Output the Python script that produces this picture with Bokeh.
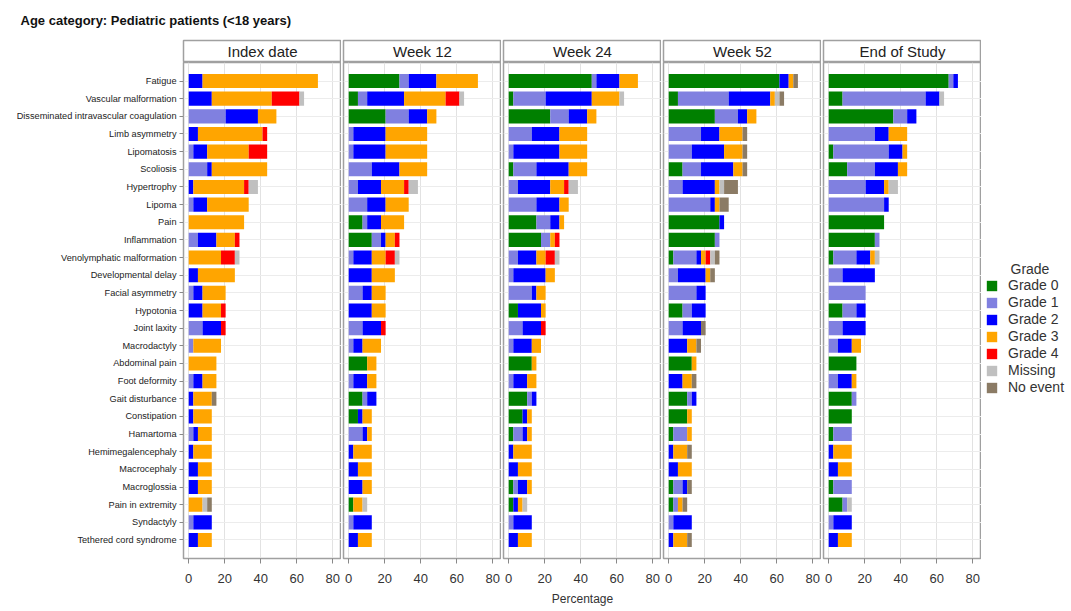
from bokeh.plotting import figure
from bokeh.layouts import column, row
from bokeh.models import (ColumnDataSource, FactorRange, Range1d, FixedTicker,
                          Legend, LegendItem)
from bokeh.embed import file_html
from bokeh.resources import INLINE
from bokeh.core.properties import value

# Pediatric cohort size; bar lengths are patient counts expressed as a percentage
N_PATIENTS = 39

categories = [
    "Fatigue", "Vascular malformation", "Disseminated intravascular coagulation",
    "Limb asymmetry", "Lipomatosis", "Scoliosis", "Hypertrophy", "Lipoma", "Pain",
    "Inflammation", "Venolymphatic malformation", "Developmental delay",
    "Facial asymmetry", "Hypotonia", "Joint laxity", "Macrodactyly",
    "Abdominal pain", "Foot deformity", "Gait disturbance", "Constipation",
    "Hamartoma", "Hemimegalencephaly", "Macrocephaly", "Macroglossia",
    "Pain in extremity", "Syndactyly", "Tethered cord syndrome",
]

grades = ["Grade 0", "Grade 1", "Grade 2", "Grade 3", "Grade 4", "Missing", "No event"]
grade_colors = ["#008000", "#8080e0", "#0000ff", "#ffa500", "#ff0000", "#c0c0c0", "#8b7b65"]

timepoints = ["Index date", "Week 12", "Week 24", "Week 52", "End of Study"]

# Number of patients per grade, one entry per category (same order as `categories`)
index_date = {
    "Grade 0":  [0, 0, 0, 0, 0, 0, 0, 0, 0, 0, 0, 0, 0, 0, 0, 0, 0, 0, 0, 0, 0, 0, 0, 0, 0, 0, 0],
    "Grade 1":  [0, 0, 8, 0, 1, 4, 0, 1, 0, 2, 0, 0, 1, 0, 3, 1, 0, 1, 0, 0, 1, 0, 0, 0, 0, 1, 0],
    "Grade 2":  [3, 5, 7, 2, 3, 1, 1, 3, 0, 4, 0, 2, 2, 3, 4, 0, 0, 2, 1, 1, 1, 1, 2, 2, 0, 4, 2],
    "Grade 3":  [25, 13, 4, 14, 9, 12, 11, 9, 12, 4, 7, 8, 5, 4, 0, 6, 6, 3, 4, 4, 3, 4, 3, 3, 3, 0, 3],
    "Grade 4":  [0, 6, 0, 1, 4, 0, 1, 0, 0, 1, 3, 0, 0, 1, 1, 0, 0, 0, 0, 0, 0, 0, 0, 0, 0, 0, 0],
    "Missing":  [0, 1, 0, 0, 0, 0, 2, 0, 0, 0, 1, 0, 0, 0, 0, 0, 0, 0, 0, 0, 0, 0, 0, 0, 1, 0, 0],
    "No event": [0, 0, 0, 0, 0, 0, 0, 0, 0, 0, 0, 0, 0, 0, 0, 0, 0, 0, 1, 0, 0, 0, 0, 0, 1, 0, 0],
}

week_12 = {
    "Grade 0":  [11, 2, 8, 0, 0, 0, 0, 0, 3, 5, 0, 0, 0, 0, 0, 0, 4, 0, 3, 2, 0, 0, 0, 0, 1, 0, 0],
    "Grade 1":  [2, 2, 5, 1, 1, 5, 2, 4, 1, 2, 1, 0, 3, 0, 3, 1, 0, 1, 1, 0, 3, 0, 0, 0, 0, 1, 0],
    "Grade 2":  [6, 8, 4, 7, 7, 6, 5, 4, 3, 1, 4, 5, 2, 5, 4, 2, 0, 3, 2, 1, 1, 1, 2, 3, 0, 4, 2],
    "Grade 3":  [9, 9, 2, 9, 9, 6, 5, 5, 5, 2, 3, 5, 3, 3, 0, 4, 2, 2, 0, 2, 1, 4, 3, 2, 2, 0, 3],
    "Grade 4":  [0, 3, 0, 0, 0, 0, 1, 0, 0, 1, 2, 0, 0, 0, 1, 0, 0, 0, 0, 0, 0, 0, 0, 0, 0, 0, 0],
    "Missing":  [0, 1, 0, 0, 0, 0, 2, 0, 0, 0, 1, 0, 0, 0, 0, 0, 0, 0, 0, 0, 0, 0, 0, 0, 1, 0, 0],
    "No event": [0, 0, 0, 0, 0, 0, 0, 0, 0, 0, 0, 0, 0, 0, 0, 0, 0, 0, 0, 0, 0, 0, 0, 0, 0, 0, 0],
}

week_24 = {
    "Grade 0":  [18, 1, 9, 0, 0, 1, 0, 0, 6, 7, 0, 0, 0, 2, 0, 0, 5, 0, 4, 3, 1, 0, 0, 1, 1, 0, 0],
    "Grade 1":  [1, 7, 4, 5, 1, 5, 2, 6, 3, 2, 2, 1, 5, 0, 3, 1, 0, 1, 1, 0, 2, 0, 0, 1, 0, 1, 0],
    "Grade 2":  [5, 10, 4, 6, 10, 7, 7, 5, 2, 0, 4, 7, 1, 5, 4, 4, 0, 3, 1, 1, 1, 1, 2, 2, 1, 4, 2],
    "Grade 3":  [4, 6, 2, 6, 6, 4, 3, 2, 1, 1, 2, 2, 2, 1, 0, 2, 1, 2, 0, 1, 1, 4, 3, 1, 1, 0, 3],
    "Grade 4":  [0, 0, 0, 0, 0, 0, 1, 0, 0, 1, 2, 0, 0, 0, 1, 0, 0, 0, 0, 0, 0, 0, 0, 0, 0, 0, 0],
    "Missing":  [0, 1, 0, 0, 0, 0, 2, 0, 0, 0, 1, 0, 0, 0, 0, 0, 0, 0, 0, 0, 0, 0, 0, 0, 1, 0, 0],
    "No event": [0, 0, 0, 0, 0, 0, 0, 0, 0, 0, 0, 0, 0, 0, 0, 0, 0, 0, 0, 0, 0, 0, 0, 0, 0, 0, 0],
}

week_52 = {
    "Grade 0":  [24, 2, 10, 0, 0, 3, 0, 0, 11, 10, 1, 0, 0, 3, 0, 0, 5, 0, 4, 4, 1, 0, 0, 1, 1, 0, 0],
    "Grade 1":  [0, 11, 5, 7, 5, 4, 3, 9, 0, 1, 5, 2, 6, 2, 3, 0, 0, 0, 1, 0, 3, 0, 0, 2, 1, 1, 0],
    "Grade 2":  [2, 9, 2, 4, 7, 7, 7, 1, 1, 0, 1, 6, 2, 3, 4, 4, 0, 3, 1, 0, 0, 1, 2, 1, 0, 4, 1],
    "Grade 3":  [1, 1, 2, 5, 4, 2, 1, 1, 0, 0, 1, 1, 0, 0, 0, 2, 1, 2, 0, 1, 1, 3, 3, 0, 1, 0, 3],
    "Grade 4":  [0, 0, 0, 0, 0, 0, 0, 0, 0, 0, 1, 0, 0, 0, 0, 0, 0, 0, 0, 0, 0, 0, 0, 0, 0, 0, 0],
    "Missing":  [0, 1, 0, 0, 0, 0, 1, 0, 0, 0, 1, 0, 0, 0, 0, 0, 0, 0, 0, 0, 0, 0, 0, 0, 0, 0, 0],
    "No event": [1, 1, 0, 1, 1, 1, 3, 2, 0, 0, 1, 1, 0, 0, 1, 1, 0, 1, 0, 0, 0, 1, 0, 1, 1, 0, 1],
}

end_of_study = {
    "Grade 0":  [26, 3, 14, 0, 1, 4, 0, 0, 12, 10, 1, 0, 0, 3, 0, 0, 6, 0, 5, 5, 1, 0, 0, 1, 3, 0, 0],
    "Grade 1":  [1, 18, 3, 10, 12, 6, 8, 12, 0, 1, 5, 3, 8, 3, 3, 2, 0, 2, 1, 0, 4, 0, 0, 4, 1, 1, 0],
    "Grade 2":  [1, 3, 2, 3, 3, 5, 4, 1, 0, 0, 3, 7, 0, 2, 5, 3, 0, 3, 0, 0, 0, 1, 2, 0, 0, 4, 2],
    "Grade 3":  [0, 0, 0, 4, 1, 2, 1, 0, 0, 0, 1, 0, 0, 0, 0, 2, 0, 1, 0, 0, 0, 4, 3, 0, 0, 0, 3],
    "Grade 4":  [0, 0, 0, 0, 0, 0, 0, 0, 0, 0, 0, 0, 0, 0, 0, 0, 0, 0, 0, 0, 0, 0, 0, 0, 0, 0, 0],
    "Missing":  [0, 1, 0, 0, 0, 0, 2, 0, 0, 0, 1, 0, 0, 0, 0, 0, 0, 0, 0, 0, 0, 0, 0, 0, 1, 0, 0],
    "No event": [0, 0, 0, 0, 0, 0, 0, 0, 0, 0, 0, 0, 0, 0, 0, 0, 0, 0, 0, 0, 0, 0, 0, 0, 0, 0, 0],
}

x_ticks = [0, 20, 40, 60, 80]

panel_counts = [index_date, week_12, week_24, week_52, end_of_study]

FONT = "Liberation Sans"
BORDER = "#a0a0a0"
y_factors = list(reversed(categories))

TITLE_H = 38
HEAD_H = 24
PANEL_H = 611 - TITLE_H - HEAD_H
AXIS_H = 53
FRAME_H = PANEL_H - AXIS_H
LABEL_W = 183
FRAME_W = 158
GAP = 2


def blank(fig):
    fig.xgrid.visible = False
    fig.ygrid.visible = False
    fig.background_fill_color = "white"
    fig.border_fill_color = "white"


# Chart title strip
title_fig = figure(width=1071, height=TITLE_H, x_range=Range1d(0, 1071), y_range=Range1d(0, TITLE_H),
                   output_backend="svg", toolbar_location=None,
                   x_axis_location=None, y_axis_location=None,
                   min_border=0, outline_line_color=None)
blank(title_fig)
title_fig.text(x=[20], y=[18], text=["Age category: Pediatric patients (<18 years)"],
               text_font=value(FONT), text_font_style="bold", text_font_size="13px",
               text_color="#111111", text_baseline="middle", text_align="left")

headers = []
panels = []
for i, (label, counts) in enumerate(zip(timepoints, panel_counts)):
    first = i == 0
    left = LABEL_W if first else GAP
    width = left + FRAME_W

    # Panel header box
    h = figure(width=width, height=HEAD_H, x_range=Range1d(0, 1), y_range=Range1d(0, 1),
               output_backend="svg", toolbar_location=None,
               x_axis_location=None, y_axis_location=None,
               min_border_left=left, min_border_right=0, min_border_top=2, min_border_bottom=0,
               outline_line_color=BORDER, outline_line_width=1.5)
    blank(h)
    h.text(x=[0.5], y=[0.5], text=[label], text_font=value(FONT), text_font_size="15px",
           text_color="#222222", text_align="center", text_baseline="middle")
    headers.append(h)

    # Stacked percentage bars
    data = {"category": categories}
    for g in grades:
        data[g] = [c * 100.0 / N_PATIENTS for c in counts[g]]
    source = ColumnDataSource(data)

    p = figure(width=width, height=PANEL_H, x_range=Range1d(-2.9, 84.9),
               y_range=FactorRange(factors=y_factors, range_padding=0.55,
                                   range_padding_units="absolute"),
               output_backend="svg", toolbar_location=None,
               y_axis_location="left" if first else None,
               min_border_left=left, min_border_right=0, min_border_top=0, min_border_bottom=AXIS_H,
               outline_line_color=BORDER, outline_line_width=1.5)
    blank(p)
    p.hbar_stack(grades, y="category", height=0.8, fill_color=grade_colors,
                 line_color=None, source=source)

    p.xgrid.visible = True
    p.xgrid.grid_line_color = "#e2e2e2"
    p.ygrid.visible = True
    p.ygrid.grid_line_color = "#ececec"

    p.xaxis.ticker = FixedTicker(ticks=x_ticks)
    p.xaxis.axis_line_color = BORDER
    p.xaxis.major_tick_line_color = "#888888"
    p.xaxis.major_tick_out = 5
    p.xaxis.major_tick_in = 0
    p.xaxis.minor_tick_line_color = None
    p.xaxis.major_label_standoff = 10
    p.xaxis.major_label_text_font = FONT
    p.xaxis.major_label_text_font_size = "13px"
    p.xaxis.major_label_text_color = "#333333"
    if i == 2:
        p.xaxis.axis_label = "Percentage"
        p.xaxis.axis_label_text_font = FONT
        p.xaxis.axis_label_text_font_size = "12px"
        p.xaxis.axis_label_text_font_style = "normal"
        p.xaxis.axis_label_text_color = "#333333"
        p.xaxis.axis_label_standoff = 6

    if first:
        p.yaxis.axis_line_color = None
        p.yaxis.major_tick_line_color = "#888888"
        p.yaxis.major_tick_out = 4
        p.yaxis.major_tick_in = 0
        p.yaxis.major_label_standoff = 3
        p.yaxis.major_label_text_font = FONT
        p.yaxis.major_label_text_font_size = "9.2px"
        p.yaxis.major_label_text_color = "#222222"
    panels.append(p)

# Grade legend (its frame is aligned with the panel frames)
used_w = sum(f.width for f in panels)
leg_w = 1071 - used_w
leg_fig = figure(width=leg_w, height=PANEL_H, x_range=Range1d(0, leg_w), y_range=Range1d(0, FRAME_H),
                 output_backend="svg", toolbar_location=None,
                 x_axis_location=None, y_axis_location=None,
                 min_border_left=0, min_border_right=0, min_border_top=0, min_border_bottom=AXIS_H,
                 outline_line_color=None)
blank(leg_fig)
items = []
for g, c in zip(grades, grade_colors):
    r = leg_fig.hbar(y=[0], left=[0], right=[0], height=0, fill_color=c, line_color=None)
    items.append(LegendItem(label=g, renderers=[r]))
leg_fig.text(x=[29], y=[290], text=["Grade"],
             text_font=value(FONT), text_font_size="14px", text_color="#333333",
             text_baseline="middle", text_align="left")
legend = Legend(items=items, location=(4, 163), padding=4, margin=0, spacing=1,
                glyph_width=13, glyph_height=13, label_height=13, label_standoff=10,
                label_text_font=FONT, label_text_font_size="14px", label_text_color="#333333",
                border_line_color=None, background_fill_alpha=0)
leg_fig.add_layout(legend, "center")

layout = column(title_fig, row(*headers), row(*panels, leg_fig))

with open("out.html", "w") as f:
    f.write(file_html(layout, INLINE))
